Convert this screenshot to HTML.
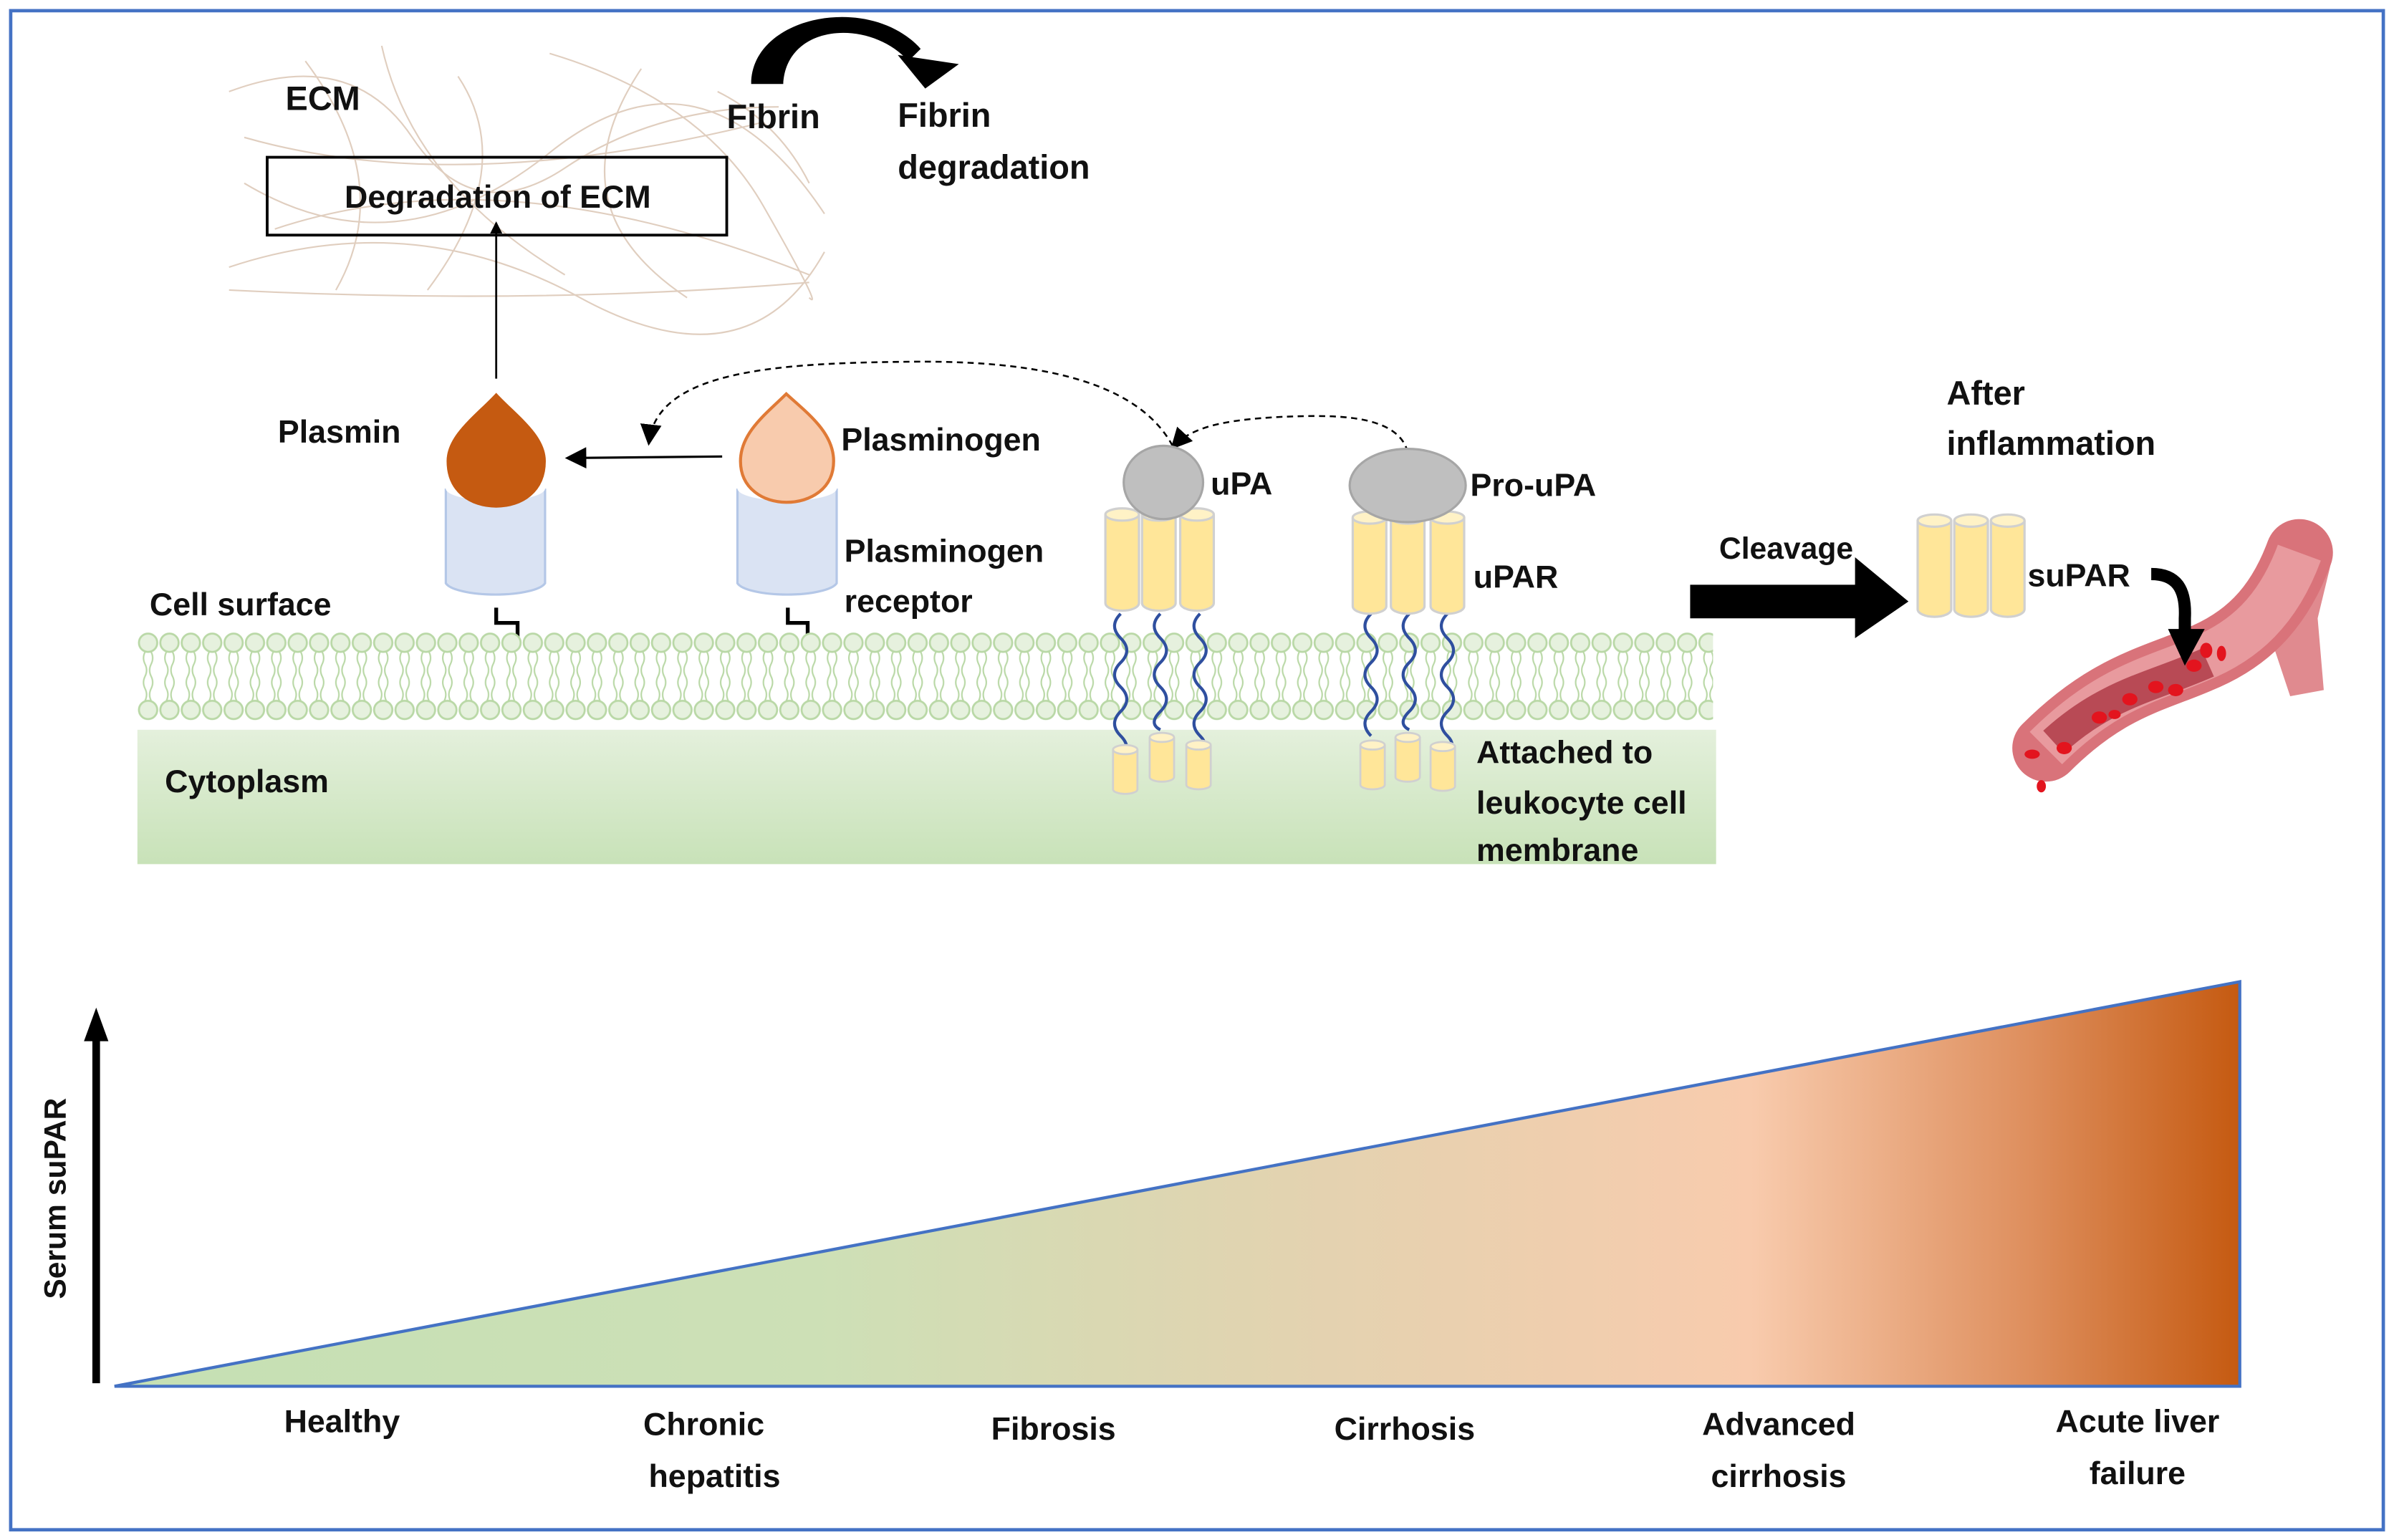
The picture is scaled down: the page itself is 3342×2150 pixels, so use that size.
<!DOCTYPE html>
<html><head><meta charset="utf-8"><style>
html,body{margin:0;padding:0;background:#fff}
svg{display:block}
text{font-family:"Liberation Sans",sans-serif;font-weight:bold;fill:#111}
</style></head><body>
<svg width="3342" height="2150" viewBox="0 0 1568 1008.7" preserveAspectRatio="none" xmlns="http://www.w3.org/2000/svg">
<defs>
<linearGradient id="tri" x1="75" y1="0" x2="1467" y2="0" gradientUnits="userSpaceOnUse">
<stop offset="0" stop-color="#C5E0B4"/><stop offset="0.33" stop-color="#CDE0B6"/>
<stop offset="0.55" stop-color="#E2D3B0"/><stop offset="0.77" stop-color="#F8CBAD"/>
<stop offset="0.9" stop-color="#DE8F5E"/><stop offset="1" stop-color="#C55A11"/></linearGradient>
<linearGradient id="cyto" x1="0" y1="0" x2="0" y2="1"><stop offset="0" stop-color="#E4F0DC"/><stop offset="1" stop-color="#C8E2B8"/></linearGradient>
<pattern id="mem" x="90" y="413" width="14" height="60" patternUnits="userSpaceOnUse">
<circle cx="7" cy="8" r="6" fill="#E6F1DE" stroke="#B9D8A6" stroke-width="1.3"/>
<circle cx="7" cy="52" r="6" fill="#E6F1DE" stroke="#B9D8A6" stroke-width="1.3"/>
<path d="M5 14 q-2 4 0 8 q2 4 0 8 M9 14 q2 4 0 8 q-2 4 0 8 M5 30 q-2 4 0 8 q2 4 0 8 M9 30 q2 4 0 8 q-2 4 0 8" fill="none" stroke="#B9D8A6" stroke-width="1"/>
</pattern>
<marker id="ah" markerWidth="8" markerHeight="8" refX="7" refY="4" orient="auto" markerUnits="userSpaceOnUse"><path d="M0 0L8 4L0 8z" fill="#000"/></marker>
<marker id="ah2" markerWidth="14" markerHeight="14" refX="12" refY="7" orient="auto" markerUnits="userSpaceOnUse"><path d="M0 0L14 7L0 14z" fill="#000"/></marker>
<g id="cyl"><path d="M0 5 v58 a11 5 0 0 0 22 0 v-58" fill="#FFE699" stroke="#D0D0D0" stroke-width="1.5"/><ellipse cx="11" cy="5" rx="11" ry="4" fill="#FFF2C6" stroke="#D0D0D0" stroke-width="1.5"/></g>
<g id="scyl"><path d="M0 3 v26 a8 3 0 0 0 16 0 v-26" fill="#FFE699" stroke="#D0D0D0" stroke-width="1.3"/><ellipse cx="8" cy="3" rx="8" ry="3" fill="#FFF2C6" stroke="#D0D0D0" stroke-width="1.3"/></g>
</defs>
<rect x="7" y="7" width="1554" height="995" fill="#fff" stroke="#4472C4" stroke-width="2.2"/>

<g fill="none" stroke="#D9C3B0" stroke-width="1" opacity="0.8">
<path d="M150 60 q80 -30 120 30 t100 20 t140 -40"/><path d="M160 120 q100 60 200 -20 t180 40"/>
<path d="M150 175 q120 -40 230 20 t160 -30"/><path d="M200 40 q60 80 20 150"/>
<path d="M300 50 q40 60 -20 140"/><path d="M420 45 q-60 90 30 150"/>
<path d="M360 35 q100 30 140 100 t30 60"/><path d="M160 90 q140 40 340 -10"/>
<path d="M180 150 q150 -50 350 30"/><path d="M470 60 q40 20 60 60"/>
<path d="M250 30 q20 90 120 150"/><path d="M150 190 q200 10 380 -5"/>
</g>
<text x="187" y="72" font-size="22">ECM</text>
<rect x="175" y="103" width="301" height="51" fill="none" stroke="#000" stroke-width="1.8"/>
<text x="326" y="136" font-size="21" text-anchor="middle">Degradation of ECM</text>
<line x1="325" y1="248" x2="325" y2="146" stroke="#000" stroke-width="1.3" marker-end="url(#ah)"/>

<path d="M492 55 C492 10 570 -5 603 32 L595 40 C570 12 515 15 513 55 Z" fill="#000"/>
<path d="M588 36 L628 42 L606 58 Z" fill="#000"/>
<text x="476" y="84" font-size="22">Fibrin</text>
<text x="588" y="83" font-size="22">Fibrin</text>
<text x="588" y="117" font-size="22">degradation</text>

<text x="182" y="290" font-size="21">Plasmin</text>
<path d="M292 320 v62 a33 9 0 0 0 65 0 v-62" fill="#DAE3F3" stroke="#B4C7E7" stroke-width="1.5"/>
<ellipse cx="324.5" cy="320" rx="32.5" ry="8" fill="#fff"/>
<path d="M325 258 C312 272 293 285 293 302 C293 322 308 332 325 332 C342 332 357 322 357 302 C357 285 338 272 325 258Z" fill="#C55A11" stroke="#C55A11"/>
<path d="M325 398 v10 h14 v10" fill="none" stroke="#000" stroke-width="2.5"/>
<line x1="473" y1="299" x2="372" y2="300" stroke="#000" stroke-width="1.5" marker-end="url(#ah2)"/>
<path d="M483 320 v62 a33 9 0 0 0 65 0 v-62" fill="#DAE3F3" stroke="#B4C7E7" stroke-width="1.5"/>
<ellipse cx="515.5" cy="320" rx="32.5" ry="8" fill="#fff"/>
<path d="M515 258 C503 270 485 283 485 302 C485 320 500 329 515 329 C531 329 546 320 546 302 C546 283 528 270 515 258Z" fill="#F8CBAD" stroke="#E07A36" stroke-width="2"/>
<path d="M516 398 v10 h13 v10" fill="none" stroke="#000" stroke-width="2.5"/>
<text x="551" y="295" font-size="21">Plasminogen</text>
<text x="553" y="368" font-size="21">Plasminogen</text>
<text x="553" y="401" font-size="21">receptor</text>

<path d="M768 292 C740 240 650 236 590 237 C500 238 430 245 425 290" fill="none" stroke="#000" stroke-width="1.2" stroke-dasharray="4,3" marker-end="url(#ah2)"/>
<path d="M922 296 C915 270 870 272 840 273 C800 275 780 280 768 293" fill="none" stroke="#000" stroke-width="1.2" stroke-dasharray="4,3" marker-end="url(#ah2)"/>

<rect x="90" y="478" width="1034" height="88" fill="url(#cyto)"/>
<rect x="90" y="413" width="1032" height="60" fill="url(#mem)"/>
<text x="98" y="403" font-size="21">Cell surface</text>
<text x="108" y="519" font-size="21">Cytoplasm</text>

<use href="#cyl" x="724" y="332"/><use href="#cyl" x="748" y="332"/><use href="#cyl" x="773" y="332"/>
<ellipse cx="762" cy="316" rx="26" ry="24" fill="#BFBFBF" stroke="#A6A6A6" stroke-width="1.5"/>
<text x="793" y="324" font-size="21">uPA</text>
<g fill="none" stroke="#2F4F9F" stroke-width="2">
<path d="M734 402 q-8 8 0 16 q8 8 0 16 q-8 8 0 16 q8 8 0 16 q-8 8 0 16 q6 6 3 12"/>
<path d="M760 402 q-8 8 0 16 q8 8 0 16 q-8 8 0 16 q8 8 0 16 q-8 8 0 12"/>
<path d="M786 402 q-8 8 0 16 q8 8 0 16 q-8 8 0 16 q8 8 0 16 q-8 8 0 16 q6 6 0 10"/>
<path d="M898 402 q-8 8 0 16 q8 8 0 16 q-8 8 0 16 q8 8 0 16 q-8 8 0 16"/>
<path d="M923 402 q-8 8 0 16 q8 8 0 16 q-8 8 0 16 q8 8 0 16 q-8 8 0 12"/>
<path d="M948 402 q-8 8 0 16 q8 8 0 16 q-8 8 0 16 q8 8 0 16 q-8 8 0 16 q6 6 0 10"/>
</g>
<use href="#scyl" x="729" y="488"/><use href="#scyl" x="753" y="480"/><use href="#scyl" x="777" y="485"/>
<use href="#cyl" x="886" y="334"/><use href="#cyl" x="911" y="334"/><use href="#cyl" x="937" y="334"/>
<ellipse cx="922" cy="318" rx="38" ry="24" fill="#BFBFBF" stroke="#A6A6A6" stroke-width="1.5"/>
<text x="963" y="325" font-size="21">Pro-uPA</text>
<text x="965" y="385" font-size="21">uPAR</text>
<use href="#scyl" x="891" y="485"/><use href="#scyl" x="914" y="480"/><use href="#scyl" x="937" y="486"/>
<text x="967" y="500" font-size="21">Attached to</text>
<text x="967" y="533" font-size="21">leukocyte cell</text>
<text x="967" y="564" font-size="21">membrane</text>

<text x="1126" y="366" font-size="20">Cleavage</text>
<path d="M1107 383 H1215 V365 L1250 394 L1215 418 V405 H1107Z" fill="#000"/>
<use href="#cyl" x="1256" y="336"/><use href="#cyl" x="1280" y="336"/><use href="#cyl" x="1304" y="336"/>
<text x="1328" y="384" font-size="21">suPAR</text>
<text x="1275" y="265" font-size="22">After</text>
<text x="1275" y="298" font-size="22">inflammation</text>

<path d="M1488 360 C1505 340 1532 345 1526 372 L1518 405 L1522 452 L1500 456 L1488 420 Z" fill="#E08A8F"/>
<path d="M1340 490 C1380 450 1410 445 1440 432 C1470 420 1492 400 1506 362" fill="none" stroke="#D9737A" stroke-width="44" stroke-linecap="round"/>
<path d="M1340 490 C1380 450 1410 445 1440 432 C1470 420 1492 400 1506 362" fill="none" stroke="#E89A9E" stroke-width="30"/>
<path d="M1345 486 C1380 454 1410 450 1446 434" fill="none" stroke="#B84A55" stroke-width="20"/>
<g fill="#E3141E">
<ellipse cx="1352" cy="490" rx="5" ry="4"/><ellipse cx="1375" cy="470" rx="5" ry="4"/><ellipse cx="1395" cy="458" rx="5" ry="4"/>
<ellipse cx="1412" cy="450" rx="5" ry="4"/><ellipse cx="1425" cy="452" rx="5" ry="4"/><ellipse cx="1437" cy="436" rx="5" ry="4"/>
<ellipse cx="1445" cy="426" rx="4" ry="5"/><ellipse cx="1385" cy="468" rx="4" ry="3"/><ellipse cx="1331" cy="494" rx="5" ry="3"/>
<ellipse cx="1337" cy="515" rx="3" ry="4"/><ellipse cx="1455" cy="428" rx="3" ry="5"/>
</g>
<path d="M1409 376 C1425 376 1432 385 1431 405 L1431 415" fill="none" stroke="#000" stroke-width="8"/>
<path d="M1420 412 L1444 412 L1431 436 Z" fill="#000"/>

<polygon points="75,908 1467,643 1467,908" fill="url(#tri)" stroke="#4472C4" stroke-width="2"/>
<line x1="63" y1="906" x2="63" y2="680" stroke="#000" stroke-width="5"/>
<path d="M55 682 L63 660 L71 682Z" fill="#000"/>
<text transform="translate(43 785) rotate(-90)" font-size="20" text-anchor="middle">Serum suPAR</text>
<g font-size="21">
<text x="224" y="938" text-anchor="middle">Healthy</text>
<text x="461" y="940" text-anchor="middle">Chronic</text><text x="468" y="974" text-anchor="middle">hepatitis</text>
<text x="690" y="943" text-anchor="middle">Fibrosis</text>
<text x="920" y="943" text-anchor="middle">Cirrhosis</text>
<text x="1165" y="940" text-anchor="middle">Advanced</text><text x="1165" y="974" text-anchor="middle">cirrhosis</text>
<text x="1400" y="938" text-anchor="middle">Acute liver</text><text x="1400" y="972" text-anchor="middle">failure</text>
</g>
</svg>
</body></html>
